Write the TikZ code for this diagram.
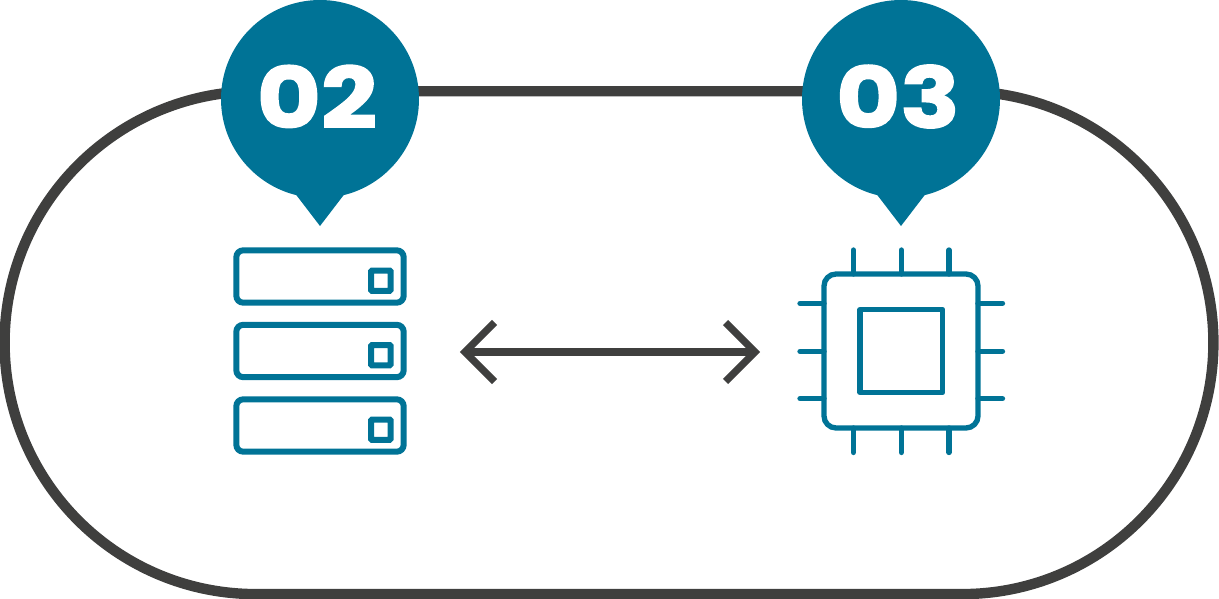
\documentclass[tikz,border=0pt]{standalone}
\usepackage{fontspec}
\setmainfont{Poppins}
\newfontfamily\pinfont[FakeBold=1.9,FakeStretch=1.17]{Poppins Bold}
\definecolor{pinteal}{HTML}{007396}
\definecolor{dark}{HTML}{3F3F3E}
\tikzset{
  ring/.style={draw=dark,line width=10.4pt},
  pinshape/.style={fill=pinteal,draw=none},
  pintext/.style={text=white,font=\pinfont\fontsize{84}{84}\selectfont,inner sep=0pt,anchor=center},
  rack/.style={draw=pinteal,line width=6pt,rounded corners=7pt},
  led/.style={draw=pinteal,line width=6pt,rounded corners=1pt},
  chip/.style={draw=pinteal,line width=5.3pt,rounded corners=12pt},
  core/.style={draw=pinteal,line width=5.3pt,line join=round},
  lead/.style={draw=pinteal,line width=5.3pt,line cap=round},
  linkarrow/.style={draw=dark,line width=7.8pt},
  barb/.style={draw=dark,line width=7.4pt,miter limit=10},
}
\begin{document}
\begin{tikzpicture}[x=1pt,y=-1pt]
\useasboundingbox (0,0) rectangle (1219,599);
% pill
\draw[ring] (256,91.3) -- (962,91.3) arc[start angle=-90,end angle=90,radius=251.4] -- (256,594.1) arc[start angle=90,end angle=270,radius=251.4] -- cycle;
% pins
\foreach \cx in {320,901}{
  \fill[pinshape] (\cx,99) circle[radius=99];
  \fill[pinshape] (\cx-24.5,190) -- (\cx+24.5,190) -- (\cx+24.5,194) -- (\cx,226) -- (\cx-24.5,194) -- cycle;
}
\node[pintext] (two) at (317,96.5) {02};
\node[pintext] (three) at (898,96.5) {03};
% server
\foreach \y in {250.3,324.8,399.3}{
  \draw[rack] (236.3,\y) rectangle (403.7,\y+52.4);
  \draw[led] (371,\y+20.3) rectangle (390.7,\y+40.5);
}
% chip
\draw[chip] (824,274) rectangle (978,428);
\draw[core] (860,309.5) rectangle (942.5,392.5);
\foreach \x in {853.3,901.3,949}{
  \draw[lead] (\x,250) -- (\x,274);
  \draw[lead] (\x,428) -- (\x,452.5);
}
\foreach \y in {303.3,351.3,398.7}{
  \draw[lead] (800,\y) -- (824,\y);
  \draw[lead] (978,\y) -- (1002.5,\y);
}
% arrow
\coordinate (L) at (465,352);
\coordinate (R) at (755,352);
\draw[linkarrow] (L) -- (R);
\draw[barb] (494.5,322.5) -- (L) -- (494.5,381.5);
\draw[barb] (725.5,322.5) -- (R) -- (725.5,381.5);
\end{tikzpicture}
\end{document}
